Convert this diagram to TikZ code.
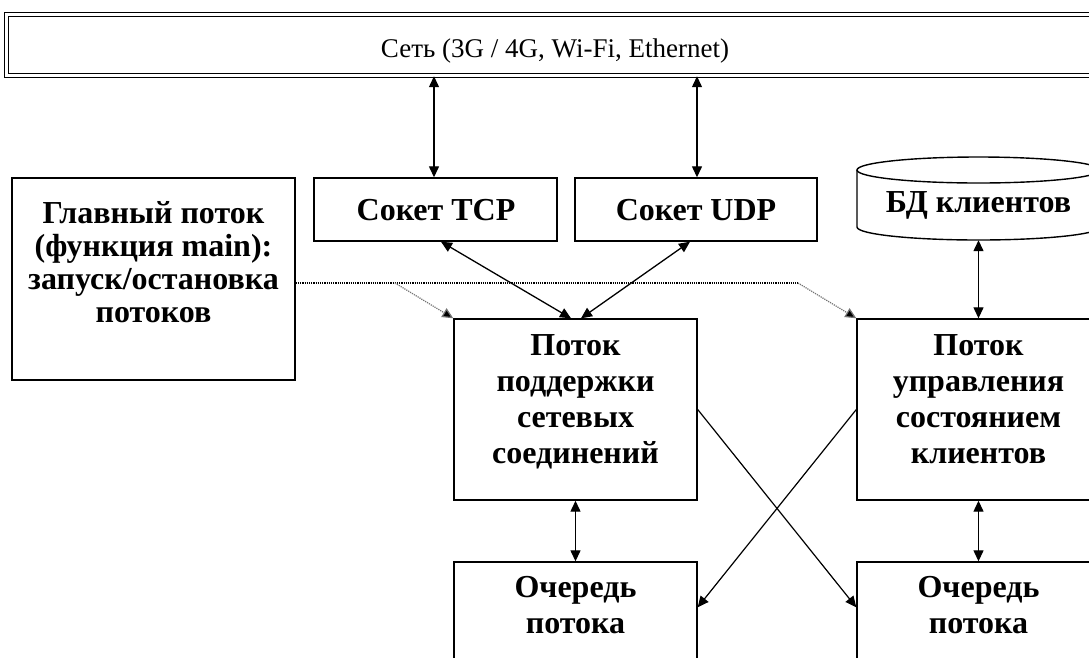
\documentclass[tikz,border=0pt]{standalone}
\usepackage{fontspec}
\setmainfont{Liberation Serif}
\usetikzlibrary{arrows.meta,calc}

% multi-line label whose baseline is that of its first line
\newcommand\stackedlines[2]{{\def\arraystretch{#1}\begin{tabular}[t]{@{}c@{}}#2\end{tabular}}}

\tikzset{
  blk/.style={draw, line width=1.4pt, inner sep=0pt, fill=white},
  lbl/.style={anchor=base, inner sep=0pt, font=\fontsize{32}{36}\selectfont\bfseries},
  nettext/.style={anchor=base, inner sep=0pt, font=\fontsize{27}{30}\selectfont},
  link/.style={line width=1.3pt, {Triangle[length=11pt, width=10pt]}-{Triangle[length=11pt, width=10pt]}},
  onedir/.style={line width=1.2pt, -{Triangle[length=11pt, width=10pt]}},
  ctl/.style={line width=1.2pt, densely dotted},
  ctlgray/.style={line width=1.2pt, densely dotted, draw=black!55,
                  -{Triangle[length=11pt, width=10pt, fill=black]}},
}

\begin{document}
\begin{tikzpicture}[x=1pt, y=-1pt]
  \useasboundingbox (0,0) rectangle (1089,657);
  \fill[white] (0,0) rectangle (1089,657);
  \clip (0,0) rectangle (1089,657);

  % network bar with a double border
  \node[draw, line width=1.4pt, double, double distance=2.5pt, inner sep=0pt,
        minimum width=1099pt, minimum height=61pt] (net) at (556,45) {};
  \node[nettext] (netT) at (555,57) {Сеть (3G / 4G, Wi-Fi, Ethernet)};

  % main thread
  \node[blk, minimum width=283pt, minimum height=202pt] (main) at (153.5,279) {};
  \node[lbl] (mainT) at (153.5,223) {\stackedlines{0.92}{Главный поток\\(функция main):\\запуск/остановка\\потоков}};

  % sockets
  \node[blk, minimum width=243pt, minimum height=63pt] (tcp) at (435.5,209.5) {};
  \node[lbl] (tcpT) at (436,220) {Сокет TCP};
  \node[blk, minimum width=242pt, minimum height=63pt] (udp) at (696,209.5) {};
  \node[lbl] (udpT) at (696,220) {Сокет UDP};

  % client database (cylinder)
  \node[inner sep=0pt, minimum width=243pt, minimum height=83pt] (db) at (978.5,198.5) {};
  \draw[line width=1.4pt, fill=white]
    (857,170) -- (857,227) arc[start angle=180, end angle=360, x radius=121.5pt, y radius=13pt]
    -- (1100,170);
  \draw[line width=1.4pt, fill=white] (978.5,170) ellipse[x radius=121.5pt, y radius=13pt];
  \node[lbl] (dbT) at (978.5,212) {БД клиентов};

  % worker threads
  \node[blk, minimum width=243pt, minimum height=181pt] (thrA) at (575.5,409.5) {};
  \node[lbl] (thrAT) at (575.5,355) {\stackedlines{1}{Поток\\поддержки\\сетевых\\соединений}};
  \node[blk, minimum width=243pt, minimum height=181pt] (thrB) at (978.5,409.5) {};
  \node[lbl] (thrBT) at (978.5,355) {\stackedlines{1}{Поток\\управления\\состоянием\\клиентов}};

  % thread queues
  \node[blk, minimum width=243pt, minimum height=103pt] (qA) at (575.5,613.5) {};
  \node[lbl] (qAT) at (575.5,597) {\stackedlines{1}{Очередь\\потока}};
  \node[blk, minimum width=243pt, minimum height=103pt] (qB) at (978.5,613.5) {};
  \node[lbl] (qBT) at (978.5,597) {\stackedlines{1}{Очередь\\потока}};

  % network <-> sockets
  \draw[link] (tcp.north -| 434,0) -- (net.south -| 434,0);
  \draw[link] (udp.north -| 697,0) -- (net.south -| 697,0);

  % sockets <-> network thread
  \draw[link] ($(tcp.south)+(5.5,0)$) -- ($(thrA.north)+(-4.5,0)$);
  \draw[link] ($(udp.south)+(-6,0)$) -- ($(thrA.north)+(5.5,0)$);

  % database <-> client thread
  \draw[link] (db.south) -- (thrB.north);

  % threads <-> queues
  \draw[link] (thrA.south) -- (qA.north);
  \draw[link] (thrB.south) -- (qB.north);

  % threads post into each other's queue
  \draw[onedir] (thrA.east) -- ($(qB.north west)+(0,46)$);
  \draw[onedir] (thrB.west) -- ($(qA.north east)+(0,46)$);

  % main thread starts/stops the workers
  \coordinate (forkA) at (395,283);
  \coordinate (forkB) at (798,283);
  \draw[ctl] ($(main.east)+(0,4)$) -- (forkB);
  \draw[ctlgray] (forkA) -- (thrA.north west);
  \draw[ctlgray] (forkB) -- (thrB.north west);
\end{tikzpicture}
\end{document}
